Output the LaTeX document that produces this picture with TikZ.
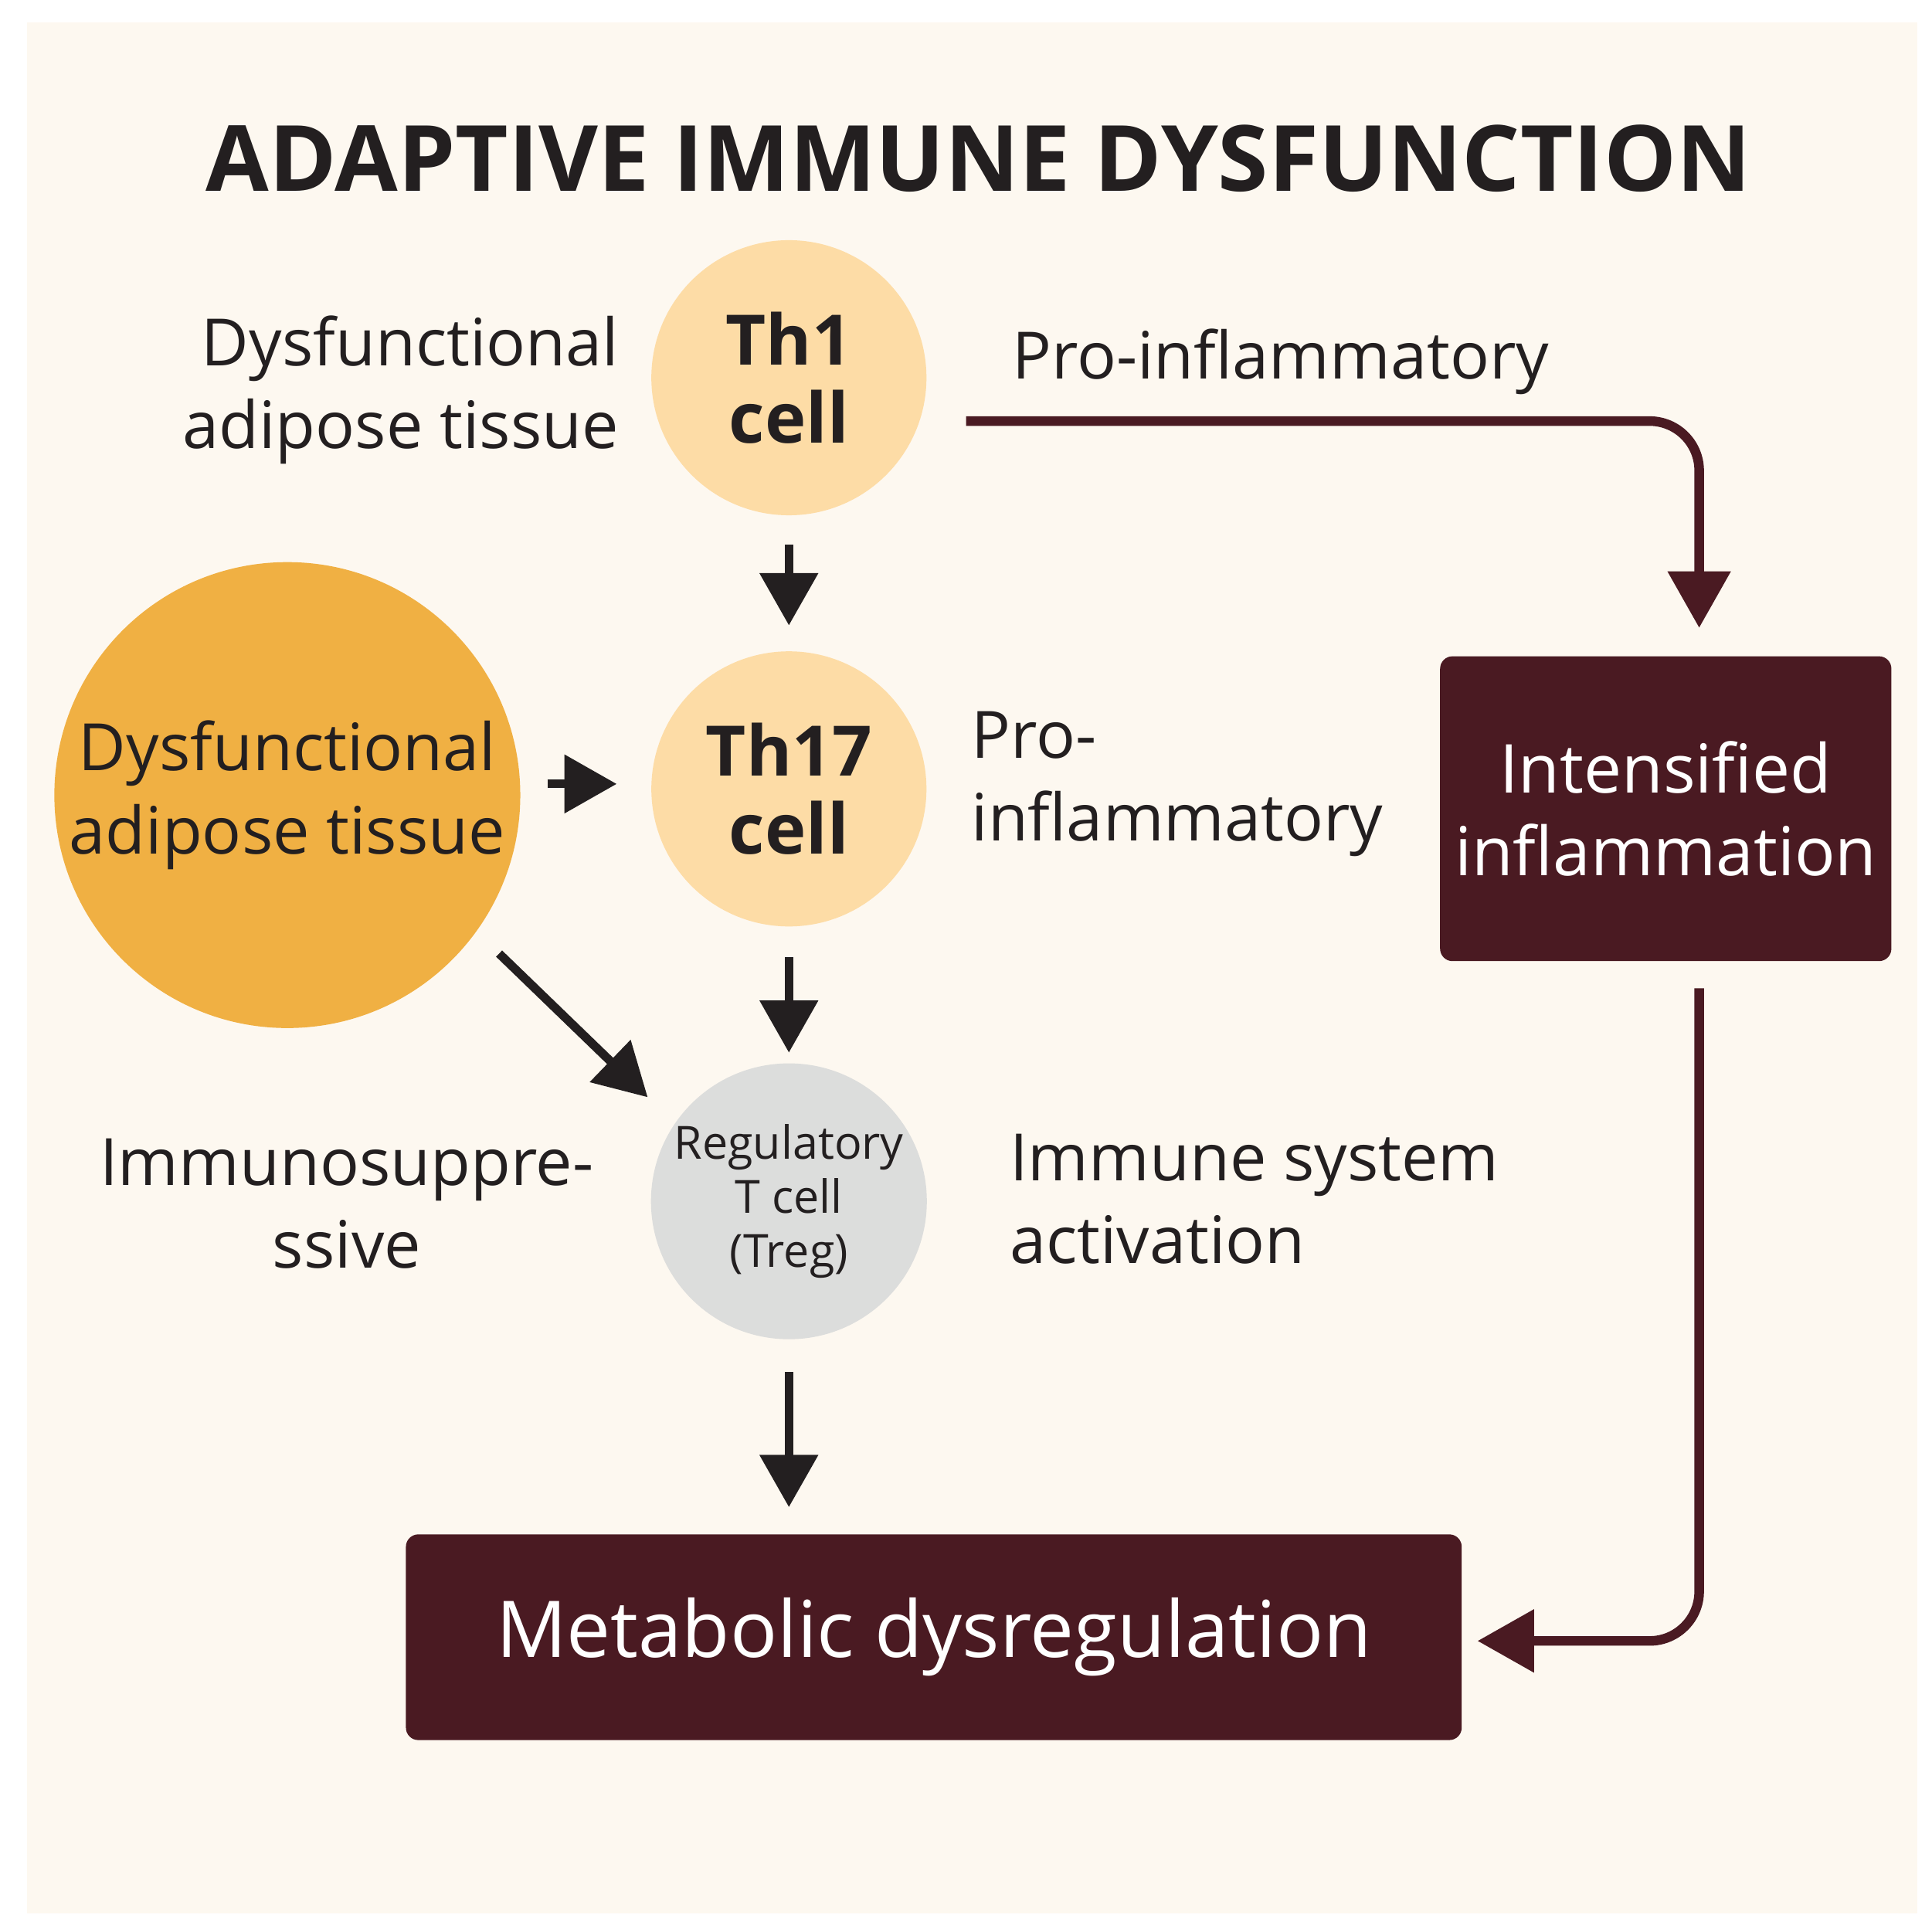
\documentclass[tikz,border=0pt]{standalone}
\usepackage{fontspec}
\setmainfont{Open Sans}
\usetikzlibrary{arrows.meta}
\definecolor{cream}{HTML}{FDF8F0}
\definecolor{maroon}{HTML}{4A1A22}
\definecolor{paleorange}{HTML}{FDDCA6}
\definecolor{deeporange}{HTML}{F0B043}
\definecolor{palegray}{HTML}{DCDDDC}
\definecolor{ink}{HTML}{231F20}
\tikzset{
  cell/.style={circle, minimum size=2.22cm, inner sep=0pt, align=center, text=ink},
  label/.style={text=ink, font=\fontsize{15}{19}\selectfont},
  darkbox/.style={fill=maroon, rounded corners=0.1cm, text=white, align=center},
  blackarrow/.style={-{Triangle[length=12pt,width=13pt]}, line width=2pt, ink},
  maroonarrow/.style={-{Triangle[length=13pt,width=14pt]}, line width=2.2pt, maroon, rounded corners=0.4cm},
}
\begin{document}
\begin{tikzpicture}[x=0.01cm, y=-0.01cm]
        \useasboundingbox (0,0) rectangle (1560,1554);
        \fill[white] (0,0) rectangle (1560,1554);
        \fill[cream] (22,18) rectangle (1548,1545);

        \node[text=ink, font=\bfseries\fontsize{21}{25}\selectfont] (title) at (790,128) {ADAPTIVE IMMUNE DYSFUNCTION};

        \node[cell, fill=paleorange, font=\bfseries\fontsize{16}{18}\selectfont] (th1) at (637,305) {Th1\\cell};
        \node[cell, fill=paleorange, font=\bfseries\fontsize{16}{18}\selectfont] (th17) at (637,637) {Th17\\cell};
        \node[cell, fill=palegray, font=\fontsize{10.5}{12.5}\selectfont] (treg) at (637,970) {Regulatory\\T cell\\(Treg)};
        \node[circle, minimum size=3.76cm, inner sep=0pt, fill=deeporange, align=center, text=ink, font=\fontsize{15}{19}\selectfont] (adipose) at (232,642) {Dysfunctional\\adipose tissue};

        \node[label, align=right, anchor=east] (dys) at (512,315) {Dysfunctional\\adipose tissue};
        \node[label, anchor=west] (pro1) at (805,292) {Pro-inflammatory};
        \node[label, align=left, anchor=west] (pro2) at (772,633) {Pro-\\inflammatory};
        \node[label, align=center] (supp) at (280,972) {Immunosuppre-\\ssive};
        \node[label, align=left, anchor=west] (act) at (803,968) {Immune system\\activation};

        \node[darkbox, minimum width=3.6cm, minimum height=2.46cm, font=\fontsize{15.5}{19}\selectfont] (infl) at (1345,653) {Intensified\\inflammation};
        \node[darkbox, minimum width=8.52cm, minimum height=1.66cm, font=\fontsize{18}{22}\selectfont] (meta) at (754,1322) {Metabolic dysregulation};

        \coordinate (a1) at (637,440); \coordinate (a2) at (637,505);
        \coordinate (b1) at (637,773); \coordinate (b2) at (637,850);
        \coordinate (c1) at (637,1108); \coordinate (c2) at (637,1217);
        \coordinate (d1) at (442,633); \coordinate (d2) at (498,633);
        \coordinate (e1) at (403,770); \coordinate (e2) at (523,886);
        \draw[blackarrow] (a1) -- (a2);
        \draw[blackarrow] (b1) -- (b2);
        \draw[blackarrow] (c1) -- (c2);
        \draw[blackarrow] (d1) -- (d2);
        \draw[blackarrow] (e1) -- (e2);

        \coordinate (f1) at (780,340); \coordinate (f2) at (1372,507);
        \draw[maroonarrow] (f1) -| (f2);
        \coordinate (g1) at (1372,798); \coordinate (g2) at (1193,1325);
        \draw[maroonarrow] (g1) |- (g2);
\end{tikzpicture}
\end{document}
